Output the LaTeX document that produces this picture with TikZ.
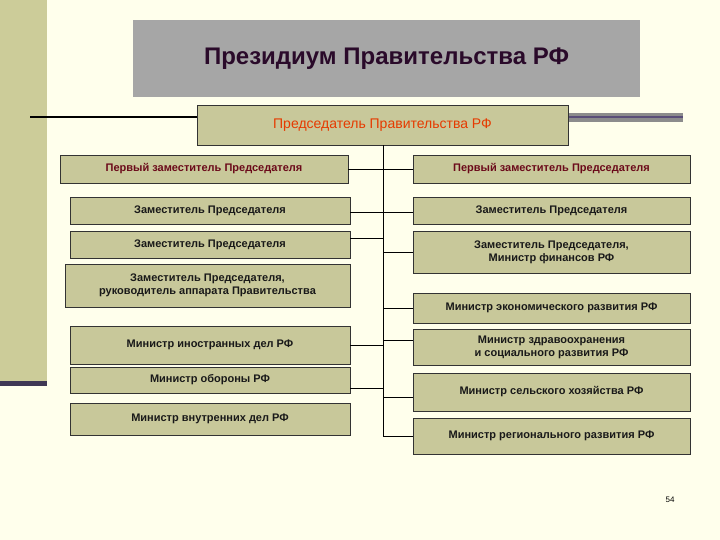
\documentclass[tikz,border=0pt]{standalone}
\usepackage{fontspec}
\setmainfont{Liberation Sans}
\begin{document}
\begin{tikzpicture}[x=1pt,y=-1pt,
  bx/.style={draw=black!80,line width=0.8pt,fill=khaki,inner sep=0pt,align=center,font=\bfseries\fontsize{11}{13}\selectfont,text=black!90},
  conn/.style={draw=black,line width=0.8pt}]
\definecolor{bg}{HTML}{FFFFEC}
\definecolor{khaki}{HTML}{C8C89A}
\definecolor{strip}{HTML}{CCCC99}
\definecolor{ttl}{HTML}{2A0A2A}
\definecolor{red1}{HTML}{E63A00}
\definecolor{dred}{HTML}{6B0A1A}
\definecolor{purp}{HTML}{5A4E78}
\useasboundingbox (0,0) rectangle (720,540);
\fill[bg] (0,0) rectangle (720,540);
\fill[strip] (0,0) rectangle (47,383);
\fill[purp!70!black] (0,381) rectangle (47,386);
% title
\node[fill=black!35,minimum width=507pt,minimum height=77pt,inner sep=0pt,font=\bfseries\fontsize{24}{28}\selectfont,text=ttl] (title) at (386.5,58.5) {Президиум Правительства РФ};
% lines beside chairman
\draw[line width=2pt,black] (30,117) -- (200,117);
\fill[black!45] (568,113) rectangle (683,122);
\draw[line width=1.2pt,purp] (568,117) -- (683,117);
\node[bx,minimum width=371pt,minimum height=40pt,font=\fontsize{14}{16}\selectfont,text=red1] (ch) at (382.5,125) {Председатель Правительства РФ};
% left
\node[bx,minimum width=288pt,minimum height=28pt,text=dred] (l1) at (204,169) {Первый заместитель Председателя};
\node[bx,minimum width=280pt,minimum height=27pt] (l2) at (210,210.5) {Заместитель Председателя};
\node[bx,minimum width=280pt,minimum height=27pt] (l3) at (210,244.5) {Заместитель Председателя};
\node[bx,minimum width=285pt,minimum height=43pt] (l4) at (207.5,285.5) {Заместитель Председателя,\\руководитель аппарата Правительства};
\node[bx,minimum width=280pt,minimum height=38pt] (l5) at (210,345) {Министр иностранных дел РФ};
\node[bx,minimum width=280pt,minimum height=26pt] (l6) at (210,380) {Министр обороны РФ};
\node[bx,minimum width=280pt,minimum height=32pt] (l7) at (210,419) {Министр внутренних дел РФ};
% right
\node[bx,minimum width=277pt,minimum height=28pt,text=dred] (r1) at (551.5,169) {Первый заместитель Председателя};
\node[bx,minimum width=277pt,minimum height=27pt] (r2) at (551.5,210.5) {Заместитель Председателя};
\node[bx,minimum width=277pt,minimum height=42pt] (r3) at (551.5,252) {Заместитель Председателя,\\Министр финансов РФ};
\node[bx,minimum width=277pt,minimum height=30pt] (r4) at (551.5,308) {Министр экономического развития РФ};
\node[bx,minimum width=277pt,minimum height=36pt] (r5) at (551.5,347) {Министр здравоохранения\\и социального развития РФ};
\node[bx,minimum width=277pt,minimum height=38pt] (r6) at (551.5,392) {Министр сельского хозяйства РФ};
\node[bx,minimum width=277pt,minimum height=36pt] (r7) at (551.5,436) {Министр регионального развития РФ};
% trunk
\coordinate (tb) at (383,436);
\draw[conn] (ch.south -| tb) -- (tb);
\foreach \n/\yy in {l1/169,l2/212,l3/238,l5/345,l6/388}{
  \draw[conn] (\n.east |- 0,\yy) -- (383,\yy);}
\foreach \n/\yy in {r1/169,r2/212,r3/252,r4/308,r5/340,r6/397,r7/436}{
  \draw[conn] (383,\yy) -- (\n.west |- 0,\yy);}
\node[font=\fontsize{8}{9}\selectfont] (pg) at (670,500) {54};
\end{tikzpicture}
\end{document}
